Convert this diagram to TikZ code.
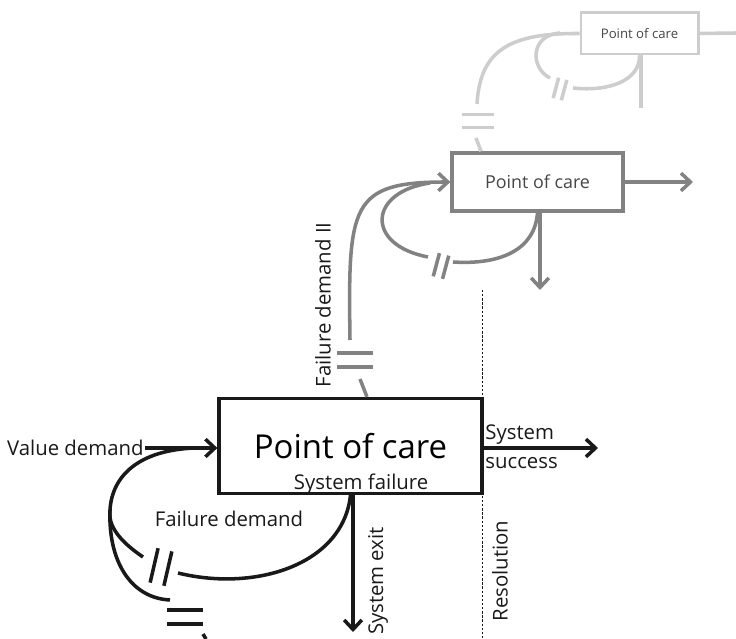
\documentclass[tikz,border=0pt]{standalone}
\usepackage{fontspec}
\setmainfont{Open Sans}
\usepackage{xcolor}
\definecolor{pcInk}{RGB}{25,25,25}
\definecolor{pcGrey}{RGB}{130,130,130}
\definecolor{pcPale}{RGB}{205,205,205}
\definecolor{pcText}{RGB}{70,70,70}
\usepackage{tikz}
\usetikzlibrary{positioning,arrows.meta}
\tikzset{gap/.pic={\draw[pic actions] (-6pt,-15pt) -- (-6pt,15pt) (6pt,-15pt) -- (6pt,15pt);}}

\begin{document}
\begin{tikzpicture}[x=0.85pt,y=-0.85pt,
  box/.style={draw,line width=2.8pt,inner sep=0pt,align=center},
  lbl/.style={font=\fontsize{17.3}{20}\selectfont,inner sep=1pt,text=pcInk},
  a/.style={-{Straight Barb[length=8pt,width=15pt]},line width=3pt},
  lnk/.style={line width=3pt}]
  \useasboundingbox (0,0) rectangle (736,639);

  % first point of care
  \node[box,draw=pcInk,minimum width=223.5pt,minimum height=80.75pt,
    font=\fontsize{28}{32}\selectfont] (care) at (350.5,446) {Point of care};
  \node[lbl,anchor=base] (fail) at ([xshift=9pt,yshift=4.5pt]care.south) {System failure};
  \node[lbl,anchor=east] (vd) at (145,448) {Value demand};
  \node[lbl,anchor=west,align=left,font=\fontsize{17.3}{25}\selectfont] (succ) at (484,447) {System\\success};
  \node[lbl,rotate=90] (exitlbl) at (378,581) {System exit};
  \node[lbl,rotate=90] (reslbl) at (500,571) {Resolution};
  \node[lbl] (fdlbl) at (229,519) {Failure demand};
  \coordinate (succend) at (598,448);
  \coordinate (exitend) at (353,632);
  \coordinate (restop) at (482,290);
  \coordinate (resbot) at (482,639);

  \draw[a,pcInk] (vd.east) -- (vd.east -| care.west);
  \draw[a,pcInk] (care.east |- succend) -- (succend);
  \draw[a,pcInk] (care.south -| exitend) -- (exitend);
  \draw[pcInk,line width=0.5pt,dash pattern=on 2pt off 1.5pt] (restop) -- (resbot);

  % failure demand loop
  \coordinate (fdA) at (178,573);
  \coordinate (fdB) at (143,557);
  \coordinate (fdL) at (110,510);
  \coordinate (fdJoin) at (195,448);
  \coordinate (lowA) at (170,600);
  \coordinate (lowB) at (203,634);
  \coordinate (lowC) at (206,639);
  \draw[lnk,pcInk] (care.south) .. controls (343,565) and (255,592) .. (fdA);
  \draw[lnk,pcInk] (fdB) .. controls (118,540) and (108,525) .. (fdL)
    .. controls (112,475) and (140,450) .. (fdJoin);
  \draw[lnk,pcInk] (fdL) .. controls (108,560) and (130,598) .. (lowA);
  \draw[lnk,pcInk] (lowB) -- (lowC);
  \pic[draw=pcInk,line width=3pt,rotate=-13] at (161,567) {gap};
  \pic[draw=pcInk,line width=3pt,rotate=90] at (185,617) {gap};

  % second point of care
  \node[box,draw=pcGrey,minimum width=145.3pt,minimum height=49.3pt,
    font=\fontsize{15.2}{18}\selectfont,text=pcText] (care2) at (537.5,182) {Point of care};
  \node[lbl,rotate=90] (fd2lbl) at (323,305) {Failure demand II};
  \coordinate (fd2a) at (360,379);
  \coordinate (fd2b) at (350,340);
  \coordinate (out2) at (693,182);
  \coordinate (down2) at (540,290);
  \coordinate (loop2a) at (453,262);
  \coordinate (loop2b) at (428,257);
  \coordinate (loop2join) at (430,183);
  \draw[lnk,pcGrey] (fd2a) -- ([xshift=14pt]care.north);
  \pic[draw=pcGrey,line width=3pt,rotate=90] at (355,360) {gap};
  \draw[a,pcGrey] (fd2b) .. controls (348,205) and (350,182) .. (care2.west);
  \draw[a,pcGrey] (care2.east) -- (out2);
  \draw[a,pcGrey] (care2.south -| down2) -- (down2);
  \draw[lnk,pcGrey] (care2.south) .. controls (535,250) and (500,265) .. (loop2a);
  \draw[lnk,pcGrey] (loop2b) .. controls (365,245) and (368,192) .. (loop2join);
  \pic[draw=pcGrey,line width=3pt,rotate=-15,scale=0.68] at (441,266) {gap};

  % third point of care
  \node[box,draw=pcPale,line width=2.5pt,minimum width=99.5pt,minimum height=34.9pt,
    font=\fontsize{11.2}{13}\selectfont,text=pcText] (care3) at (639.5,33.5) {Point of care};
  \coordinate (fd3a) at (476,138);
  \coordinate (fd3b) at (477,104);
  \coordinate (out3) at (736,33);
  \coordinate (down3) at (641,108);
  \coordinate (loop3a) at (573,88);
  \coordinate (loop3b) at (550,78);
  \coordinate (loop3join) at (560,33);
  \draw[lnk,pcPale] (fd3a) -- ([xshift=-48pt]care2.north);
  \pic[draw=pcPale,line width=3pt,rotate=90,scale=0.9] at (478,121) {gap};
  \draw[lnk,pcPale] (fd3b) .. controls (480,50) and (510,33) .. (care3.west);
  \draw[lnk,pcPale] (care3.east) -- (out3);
  \draw[lnk,pcPale] (care3.south -| down3) -- (down3);
  \draw[lnk,pcPale] (care3.south) .. controls (640,80) and (610,92) .. (loop3a);
  \draw[lnk,pcPale] (loop3b) .. controls (530,68) and (530,35) .. (loop3join);
  \pic[draw=pcPale,line width=3pt,rotate=-15,scale=0.6] at (560,89) {gap};
\end{tikzpicture}
\end{document}
